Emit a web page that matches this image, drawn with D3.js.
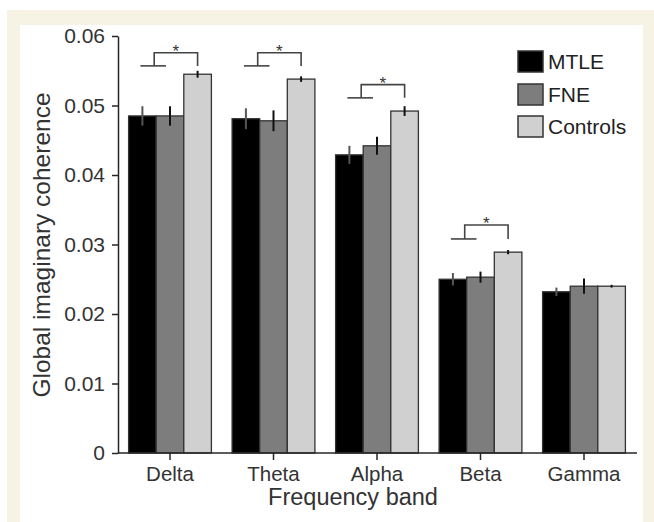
<!DOCTYPE html>
<html><head><meta charset="utf-8">
<script src="https://cdn.jsdelivr.net/npm/d3@7"></script>
<style>
html,body{margin:0;padding:0;background:#fff;}
svg{display:block;font-family:"Liberation Sans",Arial,Helvetica,sans-serif;}
</style></head>
<body>
<script>
const categories = ["Delta","Theta","Alpha","Beta","Gamma"];
const groups = ["MTLE","FNE","Controls"];
const mtle = [0.0485, 0.0481, 0.0429, 0.0250, 0.0232];
const mtleErr = [0.0014, 0.0015, 0.0013, 0.0009, 0.0006];
const fne = [0.0485, 0.0478, 0.0442, 0.0253, 0.0240];
const fneErr = [0.0014, 0.0015, 0.0013, 0.0008, 0.0011];
const controls = [0.0545, 0.0538, 0.0492, 0.0289, 0.0240];
const controlsErr = [0.0005, 0.0004, 0.0007, 0.0003, 0.0002];
const sigLow = [0.0557, 0.0557, 0.0511, 0.0308, null];
const sigHigh = [0.0576, 0.0576, 0.0530, 0.0328, null];
const yTicks = [0, 0.01, 0.02, 0.03, 0.04, 0.05, 0.06];
const yTickLabels = ["0","0.01","0.02","0.03","0.04","0.05","0.06"];
const colors = ["#000000","#7d7d7d","#d0d0d0"];

const W = 654, H = 522;
const series = [mtle, fne, controls];
const errs = [mtleErr, fneErr, controlsErr];

const svg = d3.select("body").append("svg").attr("width", W).attr("height", H);
svg.append("rect").attr("x",7).attr("y",10).attr("width",W-7).attr("height",H-10).attr("fill","#f6f2e4");
svg.append("rect").attr("x",20).attr("y",25).attr("width",623).attr("height",H-25).attr("fill","#ffffff");

const x0 = d3.scaleBand().domain(categories).range([118.25, 635.75]).paddingInner(0.2).paddingOuter(0.1);
const x1 = d3.scaleBand().domain(groups).range([0, x0.bandwidth()]);
const y = d3.scaleLinear().domain([0, 0.06]).range([453, 36]);

const ink = "#262626";

// bars
categories.forEach((c, i) => {
  groups.forEach((g, j) => {
    svg.append("rect")
      .attr("x", x0(c) + x1(g))
      .attr("y", y(series[j][i]))
      .attr("width", x1.bandwidth())
      .attr("height", y(0) - y(series[j][i]))
      .attr("fill", colors[j])
      .attr("stroke", "#333")
      .attr("stroke-width", 1.3);
  });
});
// error bars
categories.forEach((c, i) => {
  groups.forEach((g, j) => {
    const cx = x0(c) + x1(g) + x1.bandwidth()/2;
    svg.append("line")
      .attr("x1", cx).attr("x2", cx)
      .attr("y1", y(series[j][i] + errs[j][i]))
      .attr("y2", y(series[j][i] - errs[j][i]))
      .attr("stroke", j === 0 ? "#555" : "#111").attr("stroke-width", 2);
  });
});

// significance brackets
categories.forEach((c, i) => {
  if (sigLow[i] == null) return;
  const c0 = x0(c) + x1("MTLE") + x1.bandwidth()/2;
  const c1 = x0(c) + x1("FNE") + x1.bandwidth()/2;
  const c2 = x0(c) + x1("Controls") + x1.bandwidth()/2;
  const mid = (c0 + c1)/2 - 2;
  const yl = y(sigLow[i]), yh = y(sigHigh[i]);
  const g = svg.append("g").attr("stroke", "#444").attr("stroke-width", 1.6).attr("fill","none");
  g.append("line").attr("x1", c0 - 2).attr("x2", c1 - 4).attr("y1", yl).attr("y2", yl);
  g.append("path").attr("d", `M${mid},${yl}V${yh}H${c2}V${yl}`);
  svg.append("text").attr("x", (mid + c2)/2).attr("y", yh + 4)
    .attr("text-anchor","middle").attr("font-size", 17).attr("fill", "#333").text("*");
});

// y axis
const yAxis = d3.axisLeft(y).tickValues(yTicks).tickFormat((d,i) => yTickLabels[i]).tickSize(6).tickSizeOuter(0);
const ya = svg.append("g").attr("transform", "translate(118,0)").call(yAxis);
ya.select(".domain").attr("stroke", ink).attr("stroke-width", 1.5);
ya.selectAll(".tick line").attr("stroke", ink).attr("stroke-width", 1.5);
ya.selectAll(".tick text").attr("font-size", 21).attr("fill", "#333").attr("x", -13)
  .attr("font-family", "'Liberation Sans',Arial,sans-serif");

// x axis
const xAxis = d3.axisBottom(x0).tickSize(7).tickSizeOuter(0);
const xa = svg.append("g").attr("transform", `translate(0,${y(0)})`).call(xAxis);
xa.select(".domain").attr("stroke", ink).attr("stroke-width", 1.5).attr("d", "M118,0H637");
xa.selectAll(".tick line").attr("stroke", ink).attr("stroke-width", 1.5);
xa.selectAll(".tick text").attr("font-size", 20.5).attr("fill", "#333").attr("y", 13)
  .attr("font-family", "'Liberation Sans',Arial,sans-serif");

// axis titles
svg.append("text").attr("x", 353).attr("y", 505).attr("text-anchor","middle")
  .attr("font-size", 23.5).attr("fill", "#333").text("Frequency band");
svg.append("text").attr("transform", "translate(50,245) rotate(-90)").attr("text-anchor","middle")
  .attr("font-size", 24.5).attr("fill", "#333").text("Global imaginary coherence");

// legend
const legendY = [51, 84, 116];
groups.forEach((g, j) => {
  svg.append("rect").attr("x", 518).attr("y", legendY[j]).attr("width", 25).attr("height", 21)
    .attr("fill", colors[j]).attr("stroke", "#333").attr("stroke-width", 1.5);
  svg.append("text").attr("x", 548).attr("y", legendY[j] + 18).attr("font-size", 21)
    .attr("fill", "#222").text(g);
});
</script>
</body></html>
